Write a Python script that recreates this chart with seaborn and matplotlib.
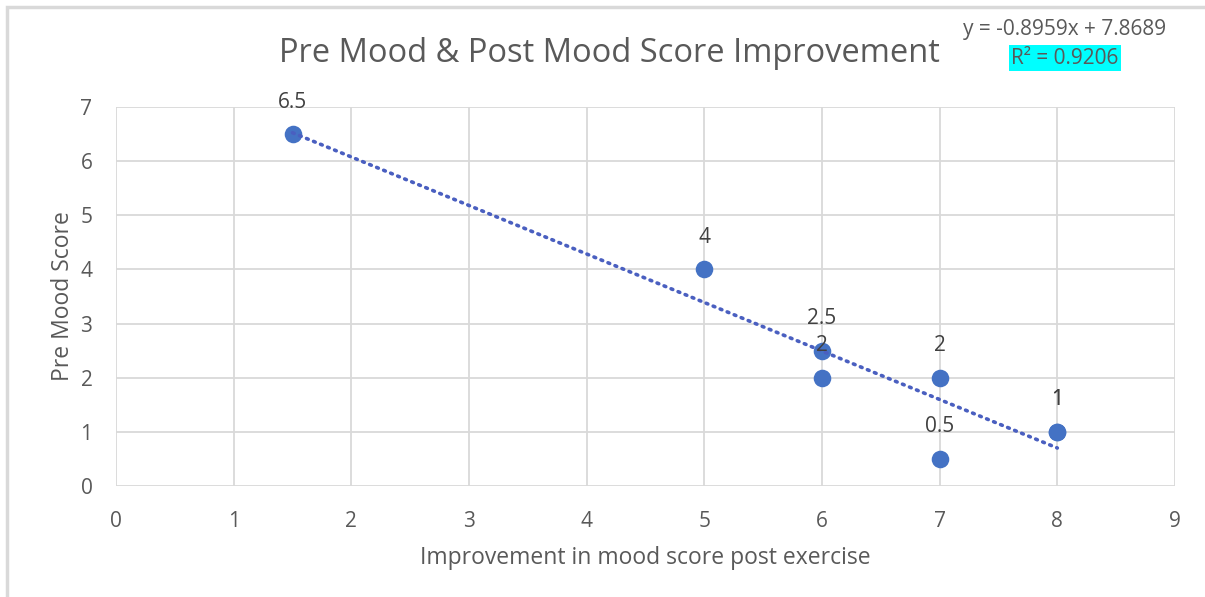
#!/usr/bin/env python3

import pandas as pd
import seaborn as sns
import matplotlib.pyplot as plt
from matplotlib.patches import Rectangle

# dados
melhora = [1.5, 5, 6, 6, 7, 7, 8, 8]
pre_humor = [6.5, 4, 2.5, 2, 2, 0.5, 1, 1]
rotulos = ["6.5", "4", "2.5", "2", "2", "0.5", "1", "1"]
x_ticks = list(range(0, 10))
y_ticks = list(range(0, 8))

titulo = "Pre Mood & Post Mood Score Improvement"
eq_texto = "y = -0.8959x + 7.8689"
r2_texto = "R² = 0.9206"

df = pd.DataFrame({"Melhora": melhora, "Pre": pre_humor, "Rotulo": rotulos})

sns.set_theme(style="whitegrid")
plt.rcParams['font.family'] = ['Open Sans', 'DejaVu Sans']
cinza = "#595959"
azul = "#4472C4"

fig = plt.figure(figsize=(12.05, 5.97), dpi=100)
ax = fig.add_axes([116 / 1205, 1 - 486 / 597, 1059 / 1205, 379 / 597])

# moldura do grafico (so esquerda e topo aparecem)
fig.patches.append(Rectangle((7 / 1205, -0.1), 1.2, 1 - 7 / 597 + 0.1,
                             transform=fig.transFigure, fill=False,
                             edgecolor="#d9d9d9", linewidth=2.5, zorder=0))

sns.regplot(data=df, x="Melhora", y="Pre", ax=ax, scatter=False, ci=None,
            truncate=True, color="#4a5fc0",
            line_kws={"linestyle": (0, (0.5, 1.6)), "linewidth": 2.6,
                      "dash_capstyle": "round", "zorder": 4})
sns.scatterplot(data=df, x="Melhora", y="Pre", ax=ax, color=azul, s=160,
                edgecolor=azul, linewidth=0, zorder=3)

for _, linha in df.iterrows():
    ax.annotate(linha["Rotulo"], (linha["Melhora"], linha["Pre"]),
                xytext=(0, 32), textcoords="offset pixels", ha="center",
                va="center", fontsize=15, color="#404040", zorder=5)

ax.set_xlim(0, 9)
ax.set_ylim(0, 7)
ax.set_xticks(x_ticks)
ax.set_yticks(y_ticks)
ax.grid(True, color="#d9d9d9", linewidth=1.3)
for lado in ax.spines.values():
    lado.set_visible(False)
ax.tick_params(axis="both", colors=cinza, labelsize=15, length=0)
ax.tick_params(axis="x", pad=18)
ax.tick_params(axis="y", pad=17)

ax.set_xlabel("Improvement in mood score post exercise", fontsize=16.5,
              color=cinza, labelpad=10)
ax.set_ylabel("Pre Mood Score", fontsize=16.5, color=cinza, labelpad=4)

fig.text(609 / 1205, 1 - 54 / 597, titulo, ha="center", va="center",
         fontsize=23.5, color=cinza)
fig.text(1065 / 1205, 1 - 29 / 597, eq_texto, ha="center", va="center",
         fontsize=15, color=cinza)
fig.text(1065 / 1205, 1 - 58 / 597, r2_texto, ha="center", va="center",
         fontsize=15, color=cinza,
         bbox=dict(facecolor="#00FFFF", edgecolor="none", pad=1.5))

fig.savefig("out.png", dpi=100)
